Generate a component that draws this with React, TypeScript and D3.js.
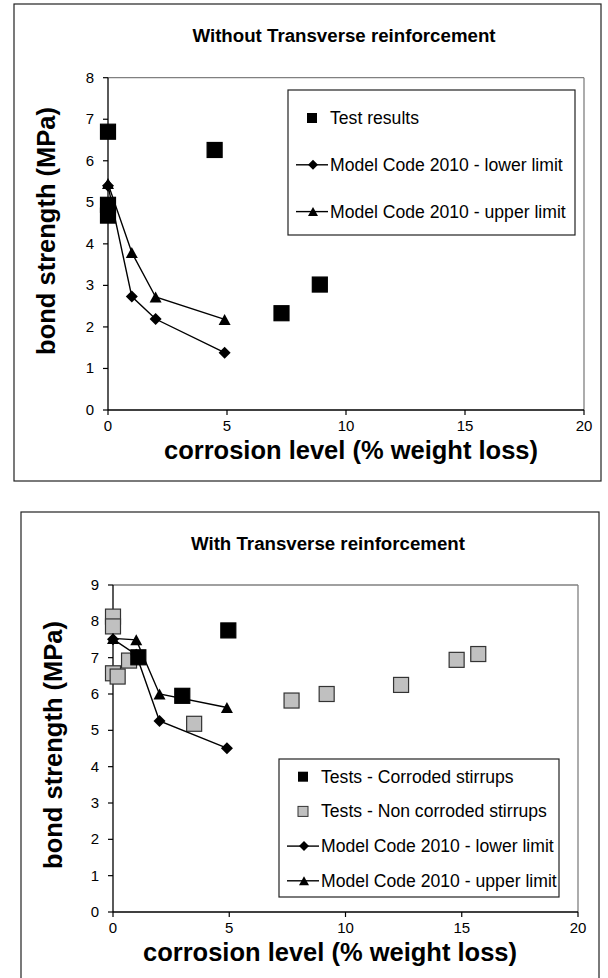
import React from "react";
import * as d3 from "d3";

// ---------- data ----------
const xTicks = [0, 5, 10, 15, 20];
const topYTicks = [0, 1, 2, 3, 4, 5, 6, 7, 8];
const botYTicks = [0, 1, 2, 3, 4, 5, 6, 7, 8, 9];

const modelX = [0, 1, 2, 4.9];

// Without transverse reinforcement
const topTestX = [0, 0, 0, 4.48, 7.29, 8.9];
const topTestY = [6.7, 4.94, 4.68, 6.26, 2.33, 3.02];
const topLowerY = [5.4, 2.73, 2.19, 1.38];
const topUpperY = [5.45, 3.79, 2.72, 2.18];

// With transverse reinforcement
const corrodedX = [1.09, 2.98, 4.96];
const corrodedY = [7.01, 5.95, 7.75];
const nonCorrodedX = [0, 0, 0, 0.2, 0.69, 3.49, 7.68, 9.19, 12.39, 14.78, 15.71];
const nonCorrodedY = [8.13, 7.86, 6.57, 6.48, 6.92, 5.18, 5.82, 6.0, 6.25, 6.94, 7.1];
const botLowerY = [7.51, 7.08, 5.26, 4.51];
const botUpperY = [7.53, 7.49, 6.0, 5.63];

const FONT = "'Liberation Sans', Arial, sans-serif";

const diamondPath = (cx: number, cy: number, r: number) =>
  `M${cx},${cy - r}L${cx + r},${cy}L${cx},${cy + r}L${cx - r},${cy}Z`;
const trianglePath = (cx: number, cy: number, w: number, h: number) =>
  `M${cx},${cy - h / 2}L${cx + w / 2},${cy + h / 2}L${cx - w / 2},${cy + h / 2}Z`;

type LegendItem = { label: string; kind: "square" | "gray" | "diamond" | "triangle" };

type ChartProps = {
  frame: { x: number; y: number; w: number; h: number };
  px: [number, number];
  py: [number, number];
  yMax: number;
  yTicks: number[];
  title: string;
  titlePos: [number, number];
  xTitlePos: [number, number];
  yTitlePos: [number, number];
  legendBox: { x: number; y: number; w: number; h: number };
  legendFirst: number;
  legendStep: number;
  legend: LegendItem[];
  squares: { x: number[]; y: number[]; fill: string }[];
  lower: number[];
  upper: number[];
};

function Chart(p: ChartProps) {
  const x = d3.scaleLinear().domain([0, 20]).range(p.px);
  const y = d3.scaleLinear().domain([0, p.yMax]).range(p.py);
  const line = d3
    .line<[number, number]>()
    .x((d) => x(d[0]))
    .y((d) => y(d[1]));
  const lowerPts = modelX.map((v, i) => [v, p.lower[i]] as [number, number]);
  const upperPts = modelX.map((v, i) => [v, p.upper[i]] as [number, number]);
  const [x0, x1] = p.px;
  const [y0, y1] = p.py;
  const lb = p.legendBox;
  const mX = lb.x + 24;
  return (
    <g>
      <rect x={p.frame.x} y={p.frame.y} width={p.frame.w} height={p.frame.h} fill="white" stroke="#222" strokeWidth={1.2} />
      <text x={p.titlePos[0]} y={p.titlePos[1]} textAnchor="middle" fontFamily={FONT} fontWeight="bold" fontSize={18.7}>
        {p.title}
      </text>
      {/* plot area border */}
      <line x1={x0} x2={x1} y1={y1} y2={y1} stroke="#808080" strokeWidth={1.3} />
      <line x1={x1} x2={x1} y1={y1} y2={y0} stroke="#808080" strokeWidth={1.3} />
      {/* axes */}
      <line x1={x0} x2={x0} y1={y1} y2={y0} stroke="black" strokeWidth={1.3} />
      <line x1={x0} x2={x1} y1={y0} y2={y0} stroke="black" strokeWidth={1.3} />
      {p.yTicks.map((t) => (
        <g key={"y" + t}>
          <line x1={x0 - 5} x2={x0} y1={y(t)} y2={y(t)} stroke="black" strokeWidth={1.2} />
          <text x={x0 - 14} y={y(t) + 5} textAnchor="end" fontFamily={FONT} fontSize={15}>
            {t}
          </text>
        </g>
      ))}
      {xTicks.map((t) => (
        <g key={"x" + t}>
          <line x1={x(t)} x2={x(t)} y1={y0} y2={y0 + 5} stroke="black" strokeWidth={1.2} />
          <text x={x(t)} y={y0 + 21} textAnchor="middle" fontFamily={FONT} fontSize={15}>
            {t}
          </text>
        </g>
      ))}
      <text x={p.xTitlePos[0]} y={p.xTitlePos[1]} textAnchor="middle" fontFamily={FONT} fontWeight="bold" fontSize={25.5}>
        corrosion level (% weight loss)
      </text>
      <text
        transform={`translate(${p.yTitlePos[0]},${p.yTitlePos[1]}) rotate(-90)`}
        textAnchor="middle"
        fontFamily={FONT}
        fontWeight="bold"
        fontSize={25.5}
      >
        bond strength (MPa)
      </text>
      {/* squares */}
      {p.squares.map((s, si) =>
        s.x.map((v, i) => (
          <rect
            key={`s${si}-${i}`}
            x={x(v) - 7.5}
            y={y(s.y[i]) - 7.5}
            width={15}
            height={15}
            fill={s.fill}
            stroke={s.fill === "black" ? "black" : "#333"}
            strokeWidth={1.2}
          />
        ))
      )}
      {/* model code lines */}
      <path d={line(lowerPts) || ""} fill="none" stroke="black" strokeWidth={1.4} />
      <path d={line(upperPts) || ""} fill="none" stroke="black" strokeWidth={1.4} />
      {lowerPts.map((d, i) => (
        <path key={"d" + i} d={diamondPath(x(d[0]), y(d[1]), 6)} fill="black" />
      ))}
      {upperPts.map((d, i) => (
        <path key={"t" + i} d={trianglePath(x(d[0]), y(d[1]), 12, 11)} fill="black" />
      ))}
      {/* legend */}
      <rect x={lb.x} y={lb.y} width={lb.w} height={lb.h} fill="white" stroke="#222" strokeWidth={1.2} />
      {p.legend.map((item, i) => {
        const cy = p.legendFirst + i * p.legendStep;
        return (
          <g key={"l" + i}>
            {item.kind === "square" && <rect x={mX - 5} y={cy - 5} width={10} height={10} fill="black" />}
            {item.kind === "gray" && <rect x={mX - 5} y={cy - 5} width={10} height={10} fill="#c0c0c0" stroke="#333" strokeWidth={1} />}
            {(item.kind === "diamond" || item.kind === "triangle") && (
              <line x1={lb.x + 8} x2={lb.x + 40} y1={cy} y2={cy} stroke="black" strokeWidth={1.4} />
            )}
            {item.kind === "diamond" && <path d={diamondPath(mX + 1, cy, 5)} fill="black" />}
            {item.kind === "triangle" && <path d={trianglePath(mX + 1, cy, 10, 9)} fill="black" />}
            <text x={lb.x + 42} y={cy + 6} fontFamily={FONT} fontSize={17.6}>
              {item.label}
            </text>
          </g>
        );
      })}
    </g>
  );
}

export default function App() {
  return (
    <svg width={608} height={978} style={{ position: "absolute", left: 0, top: 0, background: "white" }}>
      <Chart
        frame={{ x: 14, y: 4, w: 587, h: 477 }}
        px={[108, 584]}
        py={[410, 77.7]}
        yMax={8}
        yTicks={topYTicks}
        title="Without Transverse reinforcement"
        titlePos={[344, 42]}
        xTitlePos={[351, 459]}
        yTitlePos={[55, 231]}
        legendBox={{ x: 288, y: 90, w: 287, h: 145 }}
        legendFirst={118}
        legendStep={46.8}
        legend={[
          { label: "Test results", kind: "square" },
          { label: "Model Code 2010 - lower limit", kind: "diamond" },
          { label: "Model Code 2010 - upper limit", kind: "triangle" },
        ]}
        squares={[{ x: topTestX, y: topTestY, fill: "black" }]}
        lower={topLowerY}
        upper={topUpperY}
      />
      <Chart
        frame={{ x: 21, y: 512, w: 578, h: 500 }}
        px={[113, 578]}
        py={[912, 585]}
        yMax={9}
        yTicks={botYTicks}
        title="With Transverse reinforcement"
        titlePos={[328, 550]}
        xTitlePos={[330, 961]}
        yTitlePos={[62, 745]}
        legendBox={{ x: 279, y: 759, w: 280, h: 138 }}
        legendFirst={776.7}
        legendStep={34.7}
        legend={[
          { label: "Tests - Corroded stirrups", kind: "square" },
          { label: "Tests - Non corroded stirrups", kind: "gray" },
          { label: "Model Code 2010 - lower limit", kind: "diamond" },
          { label: "Model Code 2010 - upper limit", kind: "triangle" },
        ]}
        squares={[
          { x: nonCorrodedX, y: nonCorrodedY, fill: "#c0c0c0" },
          { x: corrodedX, y: corrodedY, fill: "black" },
        ]}
        lower={botLowerY}
        upper={botUpperY}
      />
    </svg>
  );
}
